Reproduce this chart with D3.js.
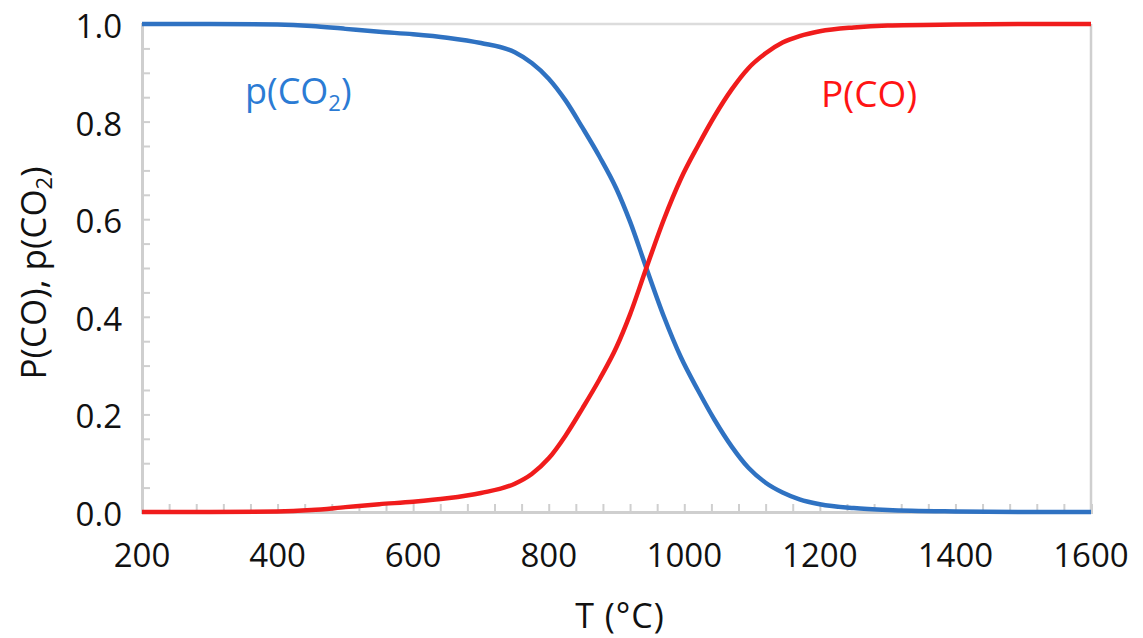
<!DOCTYPE html>
<html>
<head>
<meta charset="utf-8">
<script src="https://cdn.jsdelivr.net/npm/d3@7"></script>
<style>
  html, body { margin: 0; padding: 0; background: #fff; }
  svg { display: block; font-family: "Open Sans", "Noto Sans", sans-serif; }
</style>
</head>
<body>
<svg id="chart" width="1143" height="638"></svg>
<script>
// Temperature grid (°C)
const temperature = [200, 300, 400, 450, 500, 550, 600, 650, 700, 750, 775, 800, 825, 850, 875, 900, 920, 944, 970, 995, 1020, 1045, 1070, 1095, 1120, 1145, 1170, 1200, 1250, 1300, 1400, 1500, 1600];
// Partial pressure of CO
const pCO = [0, 0, 0.001, 0.004, 0.010, 0.016, 0.021, 0.028, 0.039, 0.058, 0.078, 0.110, 0.157, 0.213, 0.272, 0.338, 0.405, 0.500, 0.600, 0.683, 0.750, 0.812, 0.866, 0.910, 0.940, 0.962, 0.975, 0.985, 0.993, 0.997, 0.999, 1.0, 1.0];
// Partial pressure of CO2
const pCO2 = [1.0, 1.0, 0.999, 0.996, 0.990, 0.984, 0.979, 0.972, 0.961, 0.942, 0.920, 0.888, 0.843, 0.787, 0.728, 0.662, 0.595, 0.500, 0.400, 0.317, 0.250, 0.188, 0.134, 0.090, 0.060, 0.040, 0.026, 0.016, 0.008, 0.004, 0.001, 0, 0];

const xTickLabels = [200, 400, 600, 800, 1000, 1200, 1400, 1600];
const yTickLabels = [0.0, 0.2, 0.4, 0.6, 0.8, 1.0];
const xMinorStep = 40;
const yMinorStep = 0.05;

const svg = d3.select("#chart");
const margin = { left: 142, top: 24, right: 1143 - 1091, bottom: 638 - 512 };
const W = 1143, H = 638;

const x = d3.scaleLinear().domain([200, 1600]).range([margin.left, W - margin.right]);
const y = d3.scaleLinear().domain([0, 1]).range([H - margin.bottom, margin.top]);

const frameColor = "#cfcfcf";

// Plot frame
svg.append("line").attr("x1", x(200)).attr("x2", x(1600)).attr("y1", y(1)).attr("y2", y(1))
  .attr("stroke", "#dcdcdc").attr("stroke-width", 2.5);
svg.append("line").attr("x1", x(1600)).attr("x2", x(1600)).attr("y1", y(1)).attr("y2", y(0))
  .attr("stroke", frameColor).attr("stroke-width", 2.5);

// Minor ticks pointing into the plot
const xMinor = d3.range(200, 1600 + 1e-9, xMinorStep);
const yMinor = d3.range(0, 1 + 1e-9, yMinorStep);

const xAxis = d3.axisBottom(x).tickValues(xMinor).tickSize(-8).tickFormat("");
const gx = svg.append("g").attr("transform", `translate(0,${y(0)})`).call(xAxis);
gx.select(".domain").attr("stroke", frameColor).attr("stroke-width", 3);
gx.selectAll(".tick line").attr("stroke", frameColor).attr("stroke-width", 2);

const yAxis = d3.axisLeft(y).tickValues(yMinor).tickSize(-8).tickFormat("");
const gy = svg.append("g").attr("transform", `translate(${x(200)},0)`).call(yAxis);
gy.select(".domain").attr("stroke", frameColor).attr("stroke-width", 3);
gy.selectAll(".tick line").attr("stroke", frameColor).attr("stroke-width", 2);

// Tick labels
svg.append("g").selectAll("text").data(xTickLabels).join("text")
  .attr("x", d => x(d)).attr("y", y(0) + 55)
  .attr("text-anchor", "middle").attr("font-size", 33).attr("fill", "#111")
  .text(d => d);

svg.append("g").selectAll("text").data(yTickLabels).join("text")
  .attr("x", x(200) - 20).attr("y", d => y(d) + 14)
  .attr("text-anchor", "end").attr("font-size", 33).attr("fill", "#111")
  .text(d => d.toFixed(1));

// Axis titles
svg.append("text").attr("x", 620).attr("y", 628)
  .attr("text-anchor", "middle").attr("font-size", 34).attr("fill", "#111")
  .attr("letter-spacing", 1)
  .text("T (°C)");

const yt = svg.append("text")
  .attr("transform", `translate(46,${273}) rotate(-90)`)
  .attr("text-anchor", "middle").attr("font-size", 35).attr("fill", "#111");
yt.append("tspan").text("P(CO), p(CO");
yt.append("tspan").attr("font-size", 22).attr("dy", 6).text("2");
yt.append("tspan").attr("dy", -6).text(")");

// Curves
const line = d3.line().curve(d3.curveMonotoneX);
const ptsCO = temperature.map((t, i) => [x(t), y(pCO[i])]);
const ptsCO2 = temperature.map((t, i) => [x(t), y(pCO2[i])]);

svg.append("path").attr("d", line(ptsCO2)).attr("fill", "none")
  .attr("stroke", "#2f72c2").attr("stroke-width", 4.5).attr("stroke-linejoin", "round");
svg.append("path").attr("d", line(ptsCO)).attr("fill", "none")
  .attr("stroke", "#f01c1c").attr("stroke-width", 4.5).attr("stroke-linejoin", "round");

// Series labels
const lb = svg.append("text").attr("x", 245).attr("y", 104)
  .attr("font-size", 36).attr("fill", "#2b7bd4");
lb.append("tspan").text("p(CO");
lb.append("tspan").attr("font-size", 22).attr("dy", 7).text("2");
lb.append("tspan").attr("dy", -7).text(")");

svg.append("text").attr("x", 821).attr("y", 107)
  .attr("font-size", 37).attr("fill", "#ff1414")
  .text("P(CO)");
</script>
</body>
</html>
